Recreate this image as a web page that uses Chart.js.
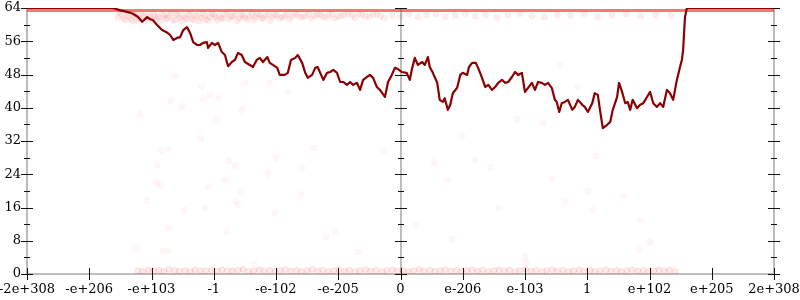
<!DOCTYPE html>
<html>
<head>
<meta charset="utf-8">
<script src="https://cdn.jsdelivr.net/npm/chart.js@4.4.1/dist/chart.umd.min.js"></script>
<style>
html,body{margin:0;padding:0;background:#fff}
</style>
</head>
<body>
<canvas id="c" width="800" height="300"></canvas>
<script>
// tick labels of the symmetric float axis
const xLabels = ['-2e+308','-e+206','-e+103','-1','-e-102','-e-205','0','e-206','e-103','1','e+102','e+205','2e+308']

// main line (x in tick units, y in bits)
const lineX = [0,1.38,1.49,1.65,1.70,1.78,1.85,1.93,1.98,2.02,
  2.09,2.17,2.25,2.30,2.35,2.41,2.46,2.51,2.57,2.62,
  2.67,2.73,2.78,2.83,2.89,2.91,2.97,3.02,3.07,3.13,
  3.18,3.23,3.29,3.34,3.39,3.45,3.50,3.58,3.63,3.69,
  3.74,3.79,3.86,3.90,3.95,4.02,4.06,4.14,4.19,4.24,
  4.31,4.35,4.42,4.47,4.51,4.58,4.63,4.67,4.71,4.76,
  4.82,4.87,4.92,4.98,5.03,5.08,5.14,5.19,5.24,5.30,
  5.35,5.40,5.46,5.51,5.56,5.62,5.67,5.75,5.80,5.86,
  5.91,5.96,6.02,6.10,6.15,6.18,6.23,6.28,6.35,6.39,
  6.44,6.47,6.52,6.59,6.63,6.68,6.71,6.76,6.80,6.84,
  6.91,6.96,7.00,7.07,7.10,7.15,7.21,7.26,7.31,7.36,
  7.41,7.47,7.52,7.57,7.63,7.68,7.73,7.79,7.84,7.89,
  7.95,8.00,8.05,8.11,8.16,8.21,8.27,8.32,8.37,8.43,
  8.48,8.51,8.55,8.59,8.64,8.69,8.76,8.80,8.85,8.92,
  8.96,9.01,9.08,9.12,9.17,9.20,9.25,9.32,9.37,9.41,
  9.48,9.51,9.56,9.61,9.65,9.69,9.73,9.80,9.85,9.90,
  9.96,10.01,10.06,10.12,10.17,10.22,10.28,10.33,10.38,10.44,
  10.49,10.52,10.54,10.57,10.60,12]
const lineY = [64,64,63.5,62.9,62.6,61.9,60.7,61.8,61.3,61.1,
  59.9,58.7,58.1,57.5,56.3,56.8,57.0,58.7,59.4,58.0,
  55.8,55.1,55.1,55.6,55.8,54.4,55.6,55.1,55.6,53.4,
  52.7,50.0,51.0,51.5,53.2,52.7,51.0,50.3,49.8,51.5,
  52.0,51.0,52.2,50.8,50.3,49.6,47.9,47.9,48.4,51.5,
  52.0,52.7,50.8,48.4,47.2,47.9,49.6,49.8,48.4,46.7,
  48.4,48.6,49.1,48.4,46.2,46.2,45.5,46.2,45.5,46.0,
  44.3,46.7,47.4,47.9,47.2,45.0,44.3,42.6,46.2,47.9,
  49.6,49.3,48.6,48.4,46.7,49.1,52.0,50.3,51.0,50.3,
  52.2,49.8,48.4,46.0,41.9,41.4,42.3,39.5,40.7,43.5,
  44.8,47.9,48.4,47.9,49.8,50.8,50.8,49.1,47.2,45.0,
  45.5,44.3,45.0,46.0,46.7,46.0,46.2,47.4,48.6,47.9,
  48.4,43.8,44.8,46.0,44.3,46.2,46.0,45.5,46.0,44.8,
  41.9,41.4,39.0,41.1,41.4,41.9,39.5,40.2,41.9,40.7,
  40.2,39.0,41.1,43.5,43.1,39.9,35.1,35.9,36.6,39.5,
  42.6,46.0,43.8,41.1,41.4,39.5,41.9,39.9,40.7,41.1,
  42.6,43.8,41.1,40.2,41.1,40.2,44.3,43.5,41.9,46.7,
  49.8,51.5,53.9,61.8,64,64]

// samples pinned at the max
const ceiling = [[0,63.4],[12,63.4]]

// samples just under the max
const highDots = [[1.46,61.8],[1.52,62.4],[1.58,61.2],[1.63,62.0],[1.69,60.9],[1.74,62.6],[1.8,61.5],[1.86,62.2],[1.91,61.0],[1.97,61.9],
  [2.03,62.5],[2.08,61.3],[2.14,60.8],[2.2,62.1],[2.25,61.6],[2.31,62.7],[2.37,61.1],[2.42,62.3],[2.48,60.9],[2.54,61.7],
  [2.6,62.4],[2.65,61.4],[2.71,62.0],[2.77,60.8],[2.83,62.6],[2.88,61.2],[2.94,61.9],[3.0,62.3],[3.06,61.0],[3.12,61.6],
  [3.18,62.5],[3.25,61.3],[3.31,62.1],[3.38,60.9],[3.44,62.4],[3.5,61.7],[3.57,62.0],[3.64,61.2],[3.7,62.6],[3.77,61.5],
  [3.84,62.2],[3.91,61.0],[3.98,62.4],[4.06,61.6],[4.14,62.0],[4.22,61.3],[4.3,62.6],[4.39,61.8],[4.48,62.2],[4.57,61.4],
  [4.66,62.5],[4.75,61.9],[4.85,62.3],[4.95,61.5],[5.05,62.1],[5.16,62.6],[5.27,61.7],[5.38,62.3],[5.5,61.9],[5.62,62.5],
  [5.74,61.6],[5.87,62.2],[6.0,62.0],[6.14,62.6],[6.28,61.8],[6.42,62.3],[6.57,62.5],[6.72,61.9],[6.88,62.2],[7.04,62.6],
  [7.2,62.0],[7.37,62.4],[7.55,61.7],[7.73,62.3],[7.92,62.6],[8.11,62.1],[8.31,61.8],[8.52,62.4],[8.73,62.2],[8.95,62.6],
  [9.17,61.9],[9.4,62.3],[9.63,62.5],[9.86,62.0],[10.1,62.4],[10.35,62.2],
  [1.49,62.9],[1.55,61.5],[1.61,62.7],[1.67,61.4],[1.72,62.3],[1.77,61.1],[1.83,62.8],[1.89,61.7],[1.94,62.5],[2.0,61.2],
  [2.06,62.0],[2.11,61.8],[2.17,62.6],[2.23,61.4],[2.28,62.2],[2.34,61.0],[2.4,62.5],[2.45,61.6],[2.51,62.2],[2.57,61.3],
  [2.63,62.7],[2.68,61.1],[2.74,62.3],[2.8,61.6],[2.86,62.1],[2.91,61.0],[2.97,62.6],[3.03,61.8],[3.09,62.2],[3.15,61.4],
  [3.22,62.7],[3.28,61.9],[3.35,62.3],[3.41,61.5],[3.47,62.1],[3.54,61.3],[3.61,62.6],[3.67,61.8],[3.74,62.2],[3.8,61.6],
  [3.88,62.5],[3.95,61.9],[4.02,62.3],[4.1,61.7],[4.18,62.5],[4.26,62.0],[4.35,62.4],[4.44,61.8],[4.53,62.6],[4.62,62.1],
  [4.71,62.4],[4.8,61.7],[4.9,62.5],[5.0,62.0],[5.1,62.4],[5.22,62.2],[5.33,62.6],[5.44,62.0],[5.56,62.4],[5.68,62.1]]

// samples at the min
const lowDots = [[1.78,0.8],[1.86,0.6],[1.95,1.0],[2.03,0.7],[2.12,0.9],[2.2,0.6],[2.28,1.1],[2.37,0.8],[2.45,0.7],[2.54,0.9],
  [2.62,0.6],[2.7,1.0],[2.79,0.8],[2.87,0.7],[2.96,0.9],[3.05,0.6],[3.13,1.0],[3.22,0.8],[3.3,0.7],[3.39,0.9],
  [3.47,1.1],[3.56,0.6],[3.64,0.8],[3.73,1.0],[3.81,0.7],[3.9,0.9],[3.98,0.6],[4.07,0.8],[4.15,1.0],[4.24,0.7],
  [4.33,0.9],[4.41,0.6],[4.5,0.8],[4.58,1.1],[4.67,0.7],[4.75,0.9],[4.84,0.6],[4.93,0.8],[5.01,1.0],[5.1,0.7],
  [5.18,0.9],[5.27,0.6],[5.35,0.8],[5.44,1.0],[5.52,0.7],[5.61,0.9],[5.7,0.6],[5.78,0.8],[5.87,1.0],[5.95,0.7],
  [6.04,0.9],[6.12,0.6],[6.21,0.8],[6.3,1.1],[6.38,0.7],[6.47,0.9],[6.55,0.6],[6.64,0.8],[6.72,1.0],[6.81,0.7],
  [6.9,0.9],[6.98,0.6],[7.07,0.8],[7.15,1.0],[7.24,0.7],[7.32,0.9],[7.41,0.6],[7.5,0.8],[7.58,1.0],[7.67,0.7],
  [7.75,0.9],[7.84,0.6],[7.92,0.8],[8.01,1.1],[8.1,0.7],[8.18,0.9],[8.27,0.6],[8.35,0.8],[8.44,1.0],[8.52,0.7],
  [8.61,0.9],[8.7,0.6],[8.78,0.8],[8.87,1.0],[8.95,0.7],[9.04,0.9],[9.12,0.6],[9.21,0.8],[9.3,1.0],[9.38,0.7],
  [9.47,0.9],[9.55,0.6],[9.64,0.8],[9.72,1.0],[9.81,0.7],[9.9,0.9],[9.98,0.6],[10.07,0.8],[10.15,1.0],[10.24,0.7],
  [10.32,0.9],[10.41,0.6]]

// scattered samples in between
const midX = [2.38,1.82,2.31,2.49,2.81,2.83,2.94,3.08,3.50,3.90,4.19,3.45,3.04,2.80,2.15,2.27,2.09,3.24,3.34,4.00,
  4.42,4.61,5.73,2.09,2.15,3.18,2.92,3.87,3.44,3.36,3.39,4.40,1.93,2.54,2.86,3.98,2.28,3.21,4.95,4.80,
  1.75,2.18,2.27,5.32,3.65,8.56,7.87,8.29,6.99,6.54,7.20,7.45,9.14,6.75,8.43,9.01,9.59,8.64,7.58,9.09,
  9.86,6.25,6.83,10.01,9.83,8.00,8.02,6.84,8.85]
const midY = [47.6,38.5,41.6,40.4,45.0,42.3,43.1,42.3,46.0,46.0,43.8,39.5,37.3,32.5,29.8,30.1,26.2,27.2,26.0,27.9,
  25.5,30.3,29.6,21.9,21.2,22.6,20.9,24.1,19.7,17.3,16.6,19.2,17.6,15.4,15.9,14.7,11.1,10.3,10.3,8.9,
  6.0,5.5,5.5,5.3,2.4,50.3,37.3,36.3,33.2,26.9,27.4,25.7,28.4,22.6,22.9,20.0,18.8,17.3,15.9,15.4,
  12.8,11.8,8.4,7.7,5.8,4.1,2.9,46.0,45.0]

const yTicks = {min: 0, max: 64, step: 8, minor: 4}

const font = {family: 'DejaVu Serif', size: 13}

// axes drawn by hand: grey lines at both ends and through zero, ticks crossing them
const axesPlugin = {
    id: 'axesPlugin',
    beforeDatasetsDraw(chart){
        const {ctx, scales: {x, y}} = chart
        const top = y.getPixelForValue(yTicks.max)
        const bottom = y.getPixelForValue(yTicks.min)
        const verticals = [x.min, (x.min + x.max) / 2, x.max].map(v => Math.round(x.getPixelForValue(v)))
        ctx.save()
        ctx.strokeStyle = '#bcbcbc'
        ctx.lineWidth = 2
        ctx.beginPath()
        verticals.forEach(px => { ctx.moveTo(px, top); ctx.lineTo(px, bottom) })
        ctx.moveTo(x.left, Math.round(bottom)); ctx.lineTo(x.right, Math.round(bottom))
        ctx.stroke()

        ctx.strokeStyle = '#111'
        ctx.lineWidth = 1
        ctx.beginPath()
        for (let v = yTicks.min; v <= yTicks.max; v += yTicks.minor) {
            const py = Math.round(y.getPixelForValue(v)) + 0.5
            const len = v % yTicks.step == 0 ? 6 : 3
            verticals.forEach(px => { ctx.moveTo(px - len, py); ctx.lineTo(px + len, py) })
        }
        for (let i = 0; i < xLabels.length; i++) {
            const px = Math.round(x.getPixelForValue(i)) + 0.5
            ctx.moveTo(px, bottom - 6); ctx.lineTo(px, bottom + 6)
        }
        ctx.stroke()
        ctx.restore()
    }
}

const dotStyle = (fill, border) => ({
    type: 'scatter', showLine: false, pointRadius: 3, pointHoverRadius: 3,
    pointBackgroundColor: fill, pointBorderColor: border, pointBorderWidth: 1
})

new Chart(document.getElementById('c'), {
    type: 'scatter',
    data: {
        datasets: [
            {
                type: 'line',
                data: lineX.map((v, i) => ({x: v, y: lineY[i]})),
                borderColor: '#8b0000', borderWidth: 2.2, borderJoinStyle: 'round',
                pointRadius: 0, tension: 0, fill: false
            },
            {
                type: 'line',
                data: ceiling.map(p => ({x: p[0], y: p[1]})),
                borderColor: 'rgba(235,30,30,0.6)', borderWidth: 3, pointRadius: 0, fill: false
            },
            Object.assign(dotStyle('rgba(255,0,0,0.07)', 'rgba(255,0,0,0.05)'), {data: highDots.map(p => ({x: p[0], y: p[1]}))}),
            Object.assign(dotStyle('rgba(255,0,0,0.08)', 'rgba(255,0,0,0.1)'), {data: lowDots.map(p => ({x: p[0], y: p[1]}))}),
            Object.assign(dotStyle('rgba(255,0,0,0.03)', 'rgba(255,0,0,0.03)'), {data: midX.map((v, i) => ({x: v, y: midY[i]}))})
        ]
    },
    options: {
        responsive: false,
        animation: false,
        events: [],
        layout: {padding: 0},
        plugins: {legend: {display: false}, tooltip: {enabled: false}},
        scales: {
            x: {
                type: 'linear', min: 0, max: xLabels.length - 1,
                grid: {display: false, drawTicks: false},
                border: {display: false},
                ticks: {
                    stepSize: 1, autoSkip: false, maxRotation: 0, padding: 8,
                    color: '#000', font: font,
                    callback: v => xLabels[v]
                },
                afterFit: s => { s.height = 26; s.paddingLeft = 0; s.paddingRight = 26 }
            },
            y: {
                type: 'linear', min: yTicks.min, max: yTicks.max,
                grid: {display: false, drawTicks: false},
                border: {display: false},
                ticks: {stepSize: yTicks.step, padding: 6, color: '#000', font: font},
                afterFit: s => { s.width = 27; s.paddingTop = 8; s.paddingBottom = 0 }
            }
        }
    },
    plugins: [axesPlugin]
})
</script>
</body>
</html>
